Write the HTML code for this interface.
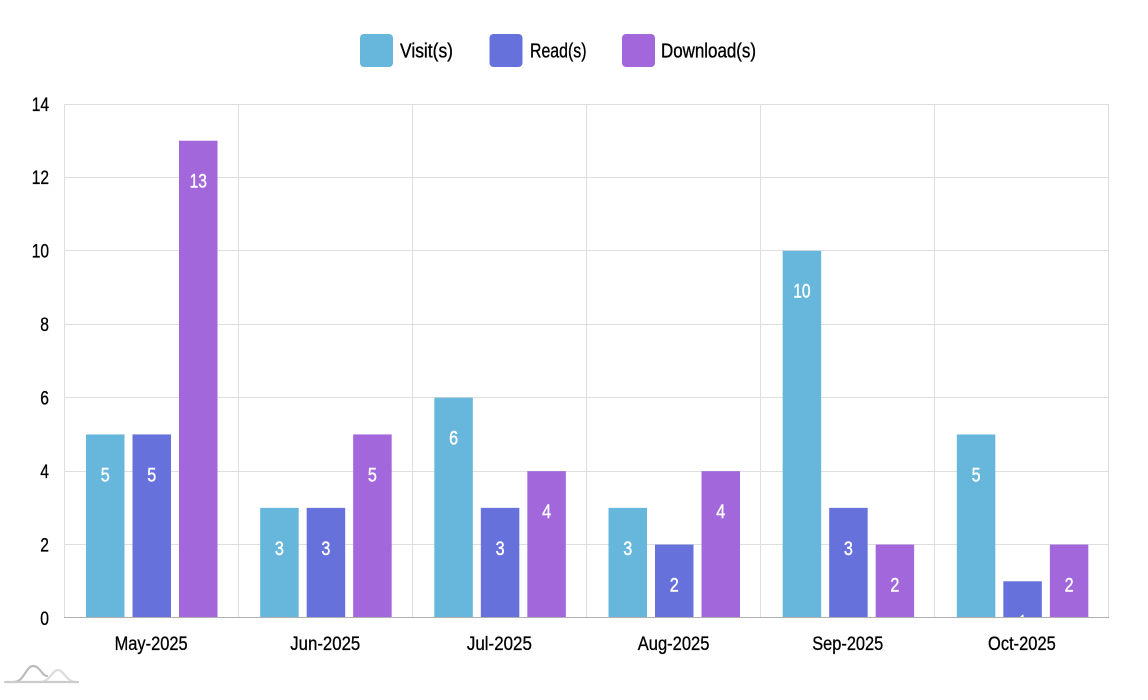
<!DOCTYPE html>
<html>
<head>
<meta charset="utf-8">
<style>
  html, body { margin: 0; padding: 0; background: #ffffff; }
  body { width: 1148px; height: 700px; overflow: hidden; }
  svg { display: block; }
  text { font-family: "Liberation Sans", sans-serif; }
</style>
</head>
<body>
<svg width="1148" height="700" viewBox="0 0 1148 700" xmlns="http://www.w3.org/2000/svg">
  <defs>
    <clipPath id="plot">
      <rect x="64" y="104" width="1045" height="514"/>
    </clipPath>
  </defs>

  <!-- Legend -->
  <g fill="#000" stroke="#000" stroke-width="0.35" font-size="20">
    <text x="400" y="57.5" textLength="53" lengthAdjust="spacingAndGlyphs">Visit(s)</text>
    <text x="530" y="57.5" textLength="56.5" lengthAdjust="spacingAndGlyphs">Read(s)</text>
    <text x="661" y="57.5" textLength="95" lengthAdjust="spacingAndGlyphs">Download(s)</text>
  </g>
  <rect x="360" y="34" width="33" height="33" rx="4" fill="#67b7dc"/>
  <rect x="489.5" y="34" width="33" height="33" rx="4" fill="#6771dc"/>
  <rect x="622" y="34" width="33" height="33" rx="4" fill="#a367dc"/>

  <!-- Horizontal grid -->
  <g stroke="#dedede" stroke-width="1">
    <line x1="64" y1="104.5" x2="1109" y2="104.5"/>
    <line x1="64" y1="177.5" x2="1109" y2="177.5"/>
    <line x1="64" y1="250.5" x2="1109" y2="250.5"/>
    <line x1="64" y1="324.5" x2="1109" y2="324.5"/>
    <line x1="64" y1="397.5" x2="1109" y2="397.5"/>
    <line x1="64" y1="471.5" x2="1109" y2="471.5"/>
    <line x1="64" y1="544.5" x2="1109" y2="544.5"/>
  </g>
  <!-- Vertical grid -->
  <g stroke="#dedede" stroke-width="1">
    <line x1="64.5" y1="104" x2="64.5" y2="618"/>
    <line x1="238.5" y1="104" x2="238.5" y2="618"/>
    <line x1="412.5" y1="104" x2="412.5" y2="618"/>
    <line x1="586.5" y1="104" x2="586.5" y2="618"/>
    <line x1="760.5" y1="104" x2="760.5" y2="618"/>
    <line x1="934.5" y1="104" x2="934.5" y2="618"/>
    <line x1="1108.5" y1="104" x2="1108.5" y2="618"/>
  </g>

  <!-- Bars -->
  <g>
    <rect x="86" y="434.43" width="38.5" height="183.57" fill="#67b7dc"/>
    <rect x="132.5" y="434.43" width="38.5" height="183.57" fill="#6771dc"/>
    <rect x="179" y="140.71" width="38.5" height="477.29" fill="#a367dc"/>

    <rect x="260.17" y="507.86" width="38.5" height="110.14" fill="#67b7dc"/>
    <rect x="306.67" y="507.86" width="38.5" height="110.14" fill="#6771dc"/>
    <rect x="353.17" y="434.43" width="38.5" height="183.57" fill="#a367dc"/>

    <rect x="434.33" y="397.71" width="38.5" height="220.29" fill="#67b7dc"/>
    <rect x="480.83" y="507.86" width="38.5" height="110.14" fill="#6771dc"/>
    <rect x="527.33" y="471.14" width="38.5" height="146.86" fill="#a367dc"/>

    <rect x="608.5" y="507.86" width="38.5" height="110.14" fill="#67b7dc"/>
    <rect x="655" y="544.57" width="38.5" height="73.43" fill="#6771dc"/>
    <rect x="701.5" y="471.14" width="38.5" height="146.86" fill="#a367dc"/>

    <rect x="782.67" y="250.86" width="38.5" height="367.14" fill="#67b7dc"/>
    <rect x="829.17" y="507.86" width="38.5" height="110.14" fill="#6771dc"/>
    <rect x="875.67" y="544.57" width="38.5" height="73.43" fill="#a367dc"/>

    <rect x="956.83" y="434.43" width="38.5" height="183.57" fill="#67b7dc"/>
    <rect x="1003.33" y="581.29" width="38.5" height="36.71" fill="#6771dc"/>
    <rect x="1049.83" y="544.57" width="38.5" height="73.43" fill="#a367dc"/>
  </g>

  <!-- Value labels -->
  <g clip-path="url(#plot)" fill="#ffffff" stroke="#ffffff" stroke-width="0.4" font-size="19" text-anchor="middle">
    <text x="105.25" y="481.5" textLength="9" lengthAdjust="spacingAndGlyphs">5</text>
    <text x="151.75" y="481.5" textLength="9" lengthAdjust="spacingAndGlyphs">5</text>
    <text x="198.25" y="187.7" textLength="17.3" lengthAdjust="spacingAndGlyphs">13</text>

    <text x="279.42" y="554.9" textLength="9" lengthAdjust="spacingAndGlyphs">3</text>
    <text x="325.92" y="554.9" textLength="9" lengthAdjust="spacingAndGlyphs">3</text>
    <text x="372.42" y="481.5" textLength="9" lengthAdjust="spacingAndGlyphs">5</text>

    <text x="453.58" y="444.7" textLength="9" lengthAdjust="spacingAndGlyphs">6</text>
    <text x="500.08" y="554.9" textLength="9" lengthAdjust="spacingAndGlyphs">3</text>
    <text x="546.58" y="518.1" textLength="9" lengthAdjust="spacingAndGlyphs">4</text>

    <text x="627.75" y="554.9" textLength="9" lengthAdjust="spacingAndGlyphs">3</text>
    <text x="674.25" y="591.6" textLength="9" lengthAdjust="spacingAndGlyphs">2</text>
    <text x="720.75" y="518.1" textLength="9" lengthAdjust="spacingAndGlyphs">4</text>

    <text x="801.92" y="297.7" textLength="17.3" lengthAdjust="spacingAndGlyphs">10</text>
    <text x="848.42" y="554.9" textLength="9" lengthAdjust="spacingAndGlyphs">3</text>
    <text x="894.92" y="591.6" textLength="9" lengthAdjust="spacingAndGlyphs">2</text>

    <text x="976.08" y="481.5" textLength="9" lengthAdjust="spacingAndGlyphs">5</text>
    <text x="1022.58" y="628.3" textLength="7" lengthAdjust="spacingAndGlyphs">1</text>
    <text x="1069.08" y="591.6" textLength="9" lengthAdjust="spacingAndGlyphs">2</text>
  </g>

  <!-- Bottom axis line -->
  <line x1="64" y1="617.5" x2="1109" y2="617.5" stroke="#b0b0b0" stroke-width="1"/>

  <!-- Y axis labels -->
  <g fill="#000" stroke="#000" stroke-width="0.3" font-size="19" text-anchor="end">
    <text x="49" y="110.8" textLength="17.3" lengthAdjust="spacingAndGlyphs">14</text>
    <text x="49" y="184.2" textLength="17.3" lengthAdjust="spacingAndGlyphs">12</text>
    <text x="49" y="257.7" textLength="17.3" lengthAdjust="spacingAndGlyphs">10</text>
    <text x="49" y="331.1" textLength="8.7" lengthAdjust="spacingAndGlyphs">8</text>
    <text x="49" y="404.5" textLength="8.7" lengthAdjust="spacingAndGlyphs">6</text>
    <text x="49" y="477.9" textLength="8.7" lengthAdjust="spacingAndGlyphs">4</text>
    <text x="49" y="551.4" textLength="8.7" lengthAdjust="spacingAndGlyphs">2</text>
    <text x="49" y="624.8" textLength="8.7" lengthAdjust="spacingAndGlyphs">0</text>
  </g>

  <!-- X axis labels -->
  <g fill="#000" stroke="#000" stroke-width="0.3" font-size="19" text-anchor="middle">
    <text x="151.1" y="650" textLength="73" lengthAdjust="spacingAndGlyphs">May-2025</text>
    <text x="325.25" y="650" textLength="70" lengthAdjust="spacingAndGlyphs">Jun-2025</text>
    <text x="499.4" y="650" textLength="65" lengthAdjust="spacingAndGlyphs">Jul-2025</text>
    <text x="673.6" y="650" textLength="71.7" lengthAdjust="spacingAndGlyphs">Aug-2025</text>
    <text x="847.75" y="650" textLength="71" lengthAdjust="spacingAndGlyphs">Sep-2025</text>
    <text x="1021.9" y="650" textLength="67.7" lengthAdjust="spacingAndGlyphs">Oct-2025</text>
  </g>

  <!-- Logo -->
  <g fill="none" stroke-linecap="round" stroke-width="2.2">
    <path d="M40 682 C 50 682, 52 670, 58 670 C 64 670, 66 682, 76 682" stroke="#dddddd"/>
    <path d="M14 682 C 24 682, 26 666, 33 666 C 40 666, 42 676, 47 676" stroke="#bbbbbb"/>
    <line x1="5" y1="682" x2="78" y2="682" stroke="#cccccc"/>
  </g>
</svg>
</body>
</html>
